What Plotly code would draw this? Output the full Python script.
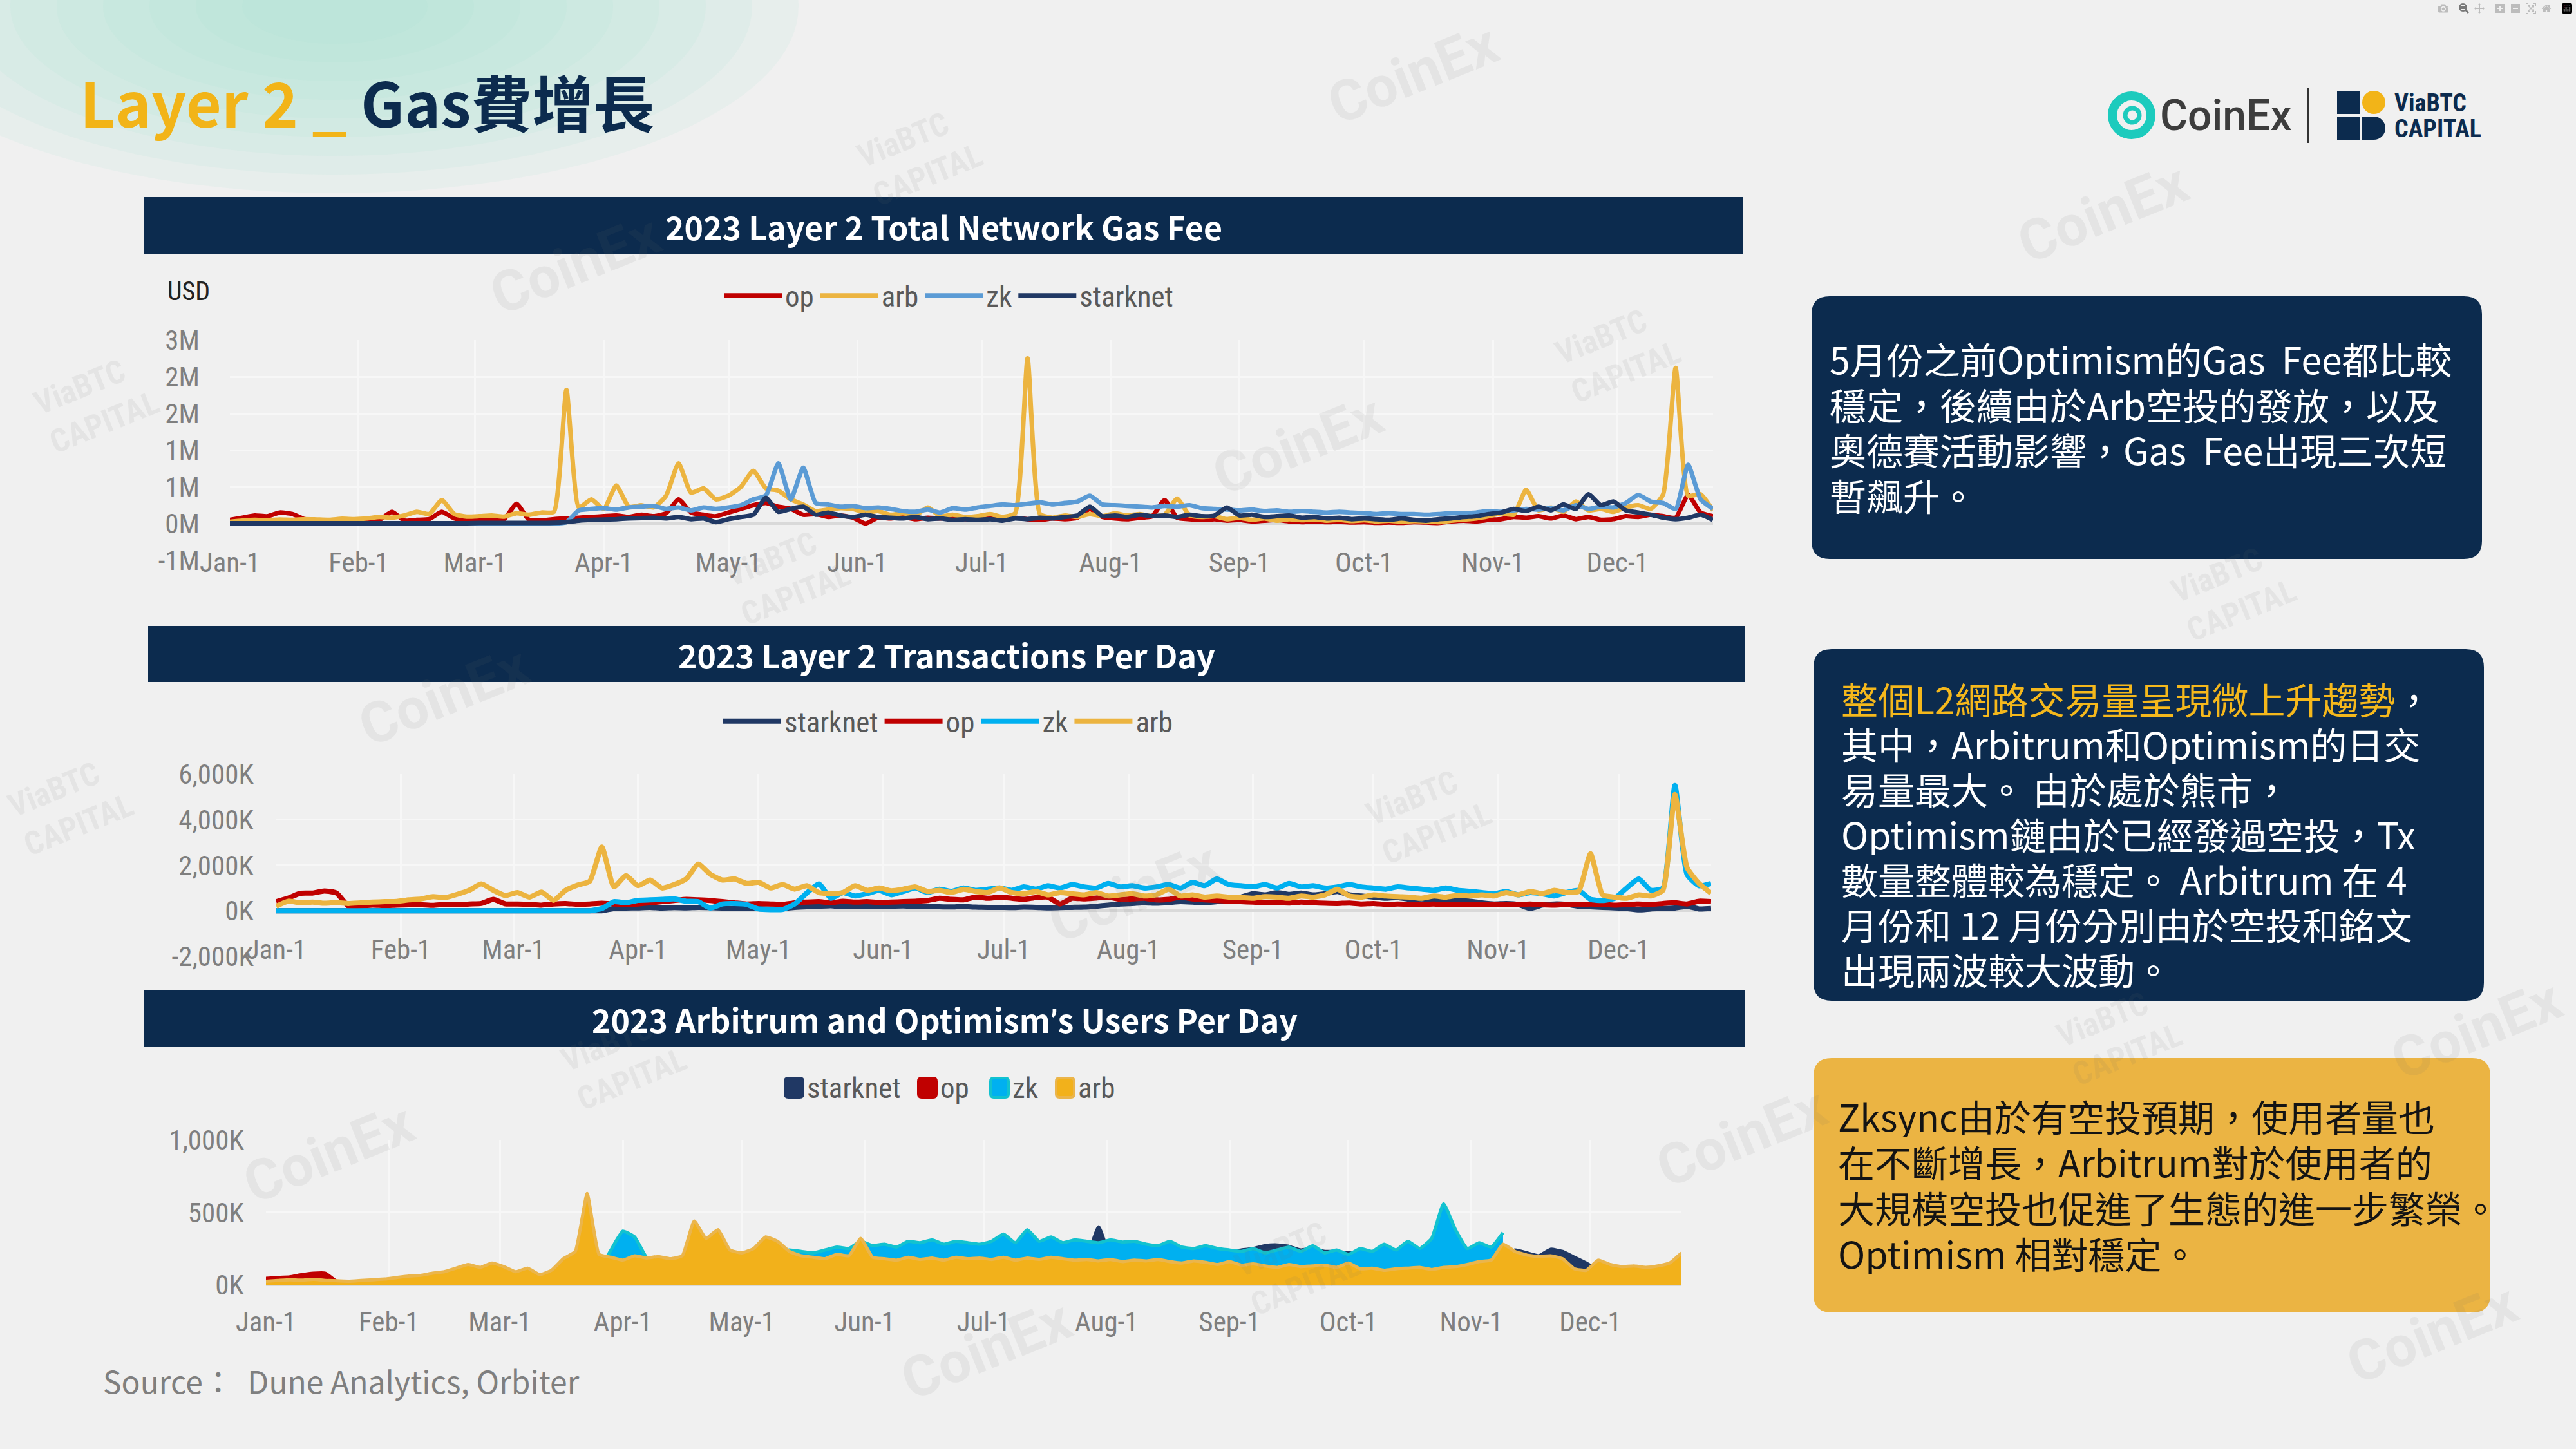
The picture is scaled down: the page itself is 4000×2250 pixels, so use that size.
"""
Layer 2 gas fee slide: three daily charts plus commentary boxes
"""

import pandas as pd
import plotly.graph_objects as go

W, H = 4000, 2250
BG = "#f0f0f0"
NAVY = "#0c2b4e"
GOLD = "#f2b418"
GRID = "#f7f7f7"
TICK = "#7f7f7f"
CHART_FONT = "Liberation Sans Narrow, Roboto Condensed, Roboto, sans-serif"
TEXT_FONT = "Noto Sans CJK TC, Noto Sans, sans-serif"

# sampled every 3 days from Jan 1
DAYS = pd.date_range("2023-01-01", periods=120, freq="3D")
MONTH_STARTS = [d.strftime("%Y-%m-%d") for d in pd.date_range("2023-01-01", periods=12, freq="MS")]
MONTH_LABELS = ["Jan-1", "Feb-1", "Mar-1", "Apr-1", "May-1", "Jun-1",
                "Jul-1", "Aug-1", "Sep-1", "Oct-1", "Nov-1", "Dec-1"]

# chart 1: total network gas fee (thousand USD)
GAS_OP = [
    50, 80, 110, 100, 150, 130, 60, 40, 35, 40, 35, 40, 50, 160, 40, 50, 60, 160, 70, 45,
    40, 50, 60, 270, 50, 40, 60, 70, 80, 90, 100, 110, 90, 120, 100, 140, 330, 150, 120, 100,
    150, 200, 250, 280, 230, 200, 120, 130, 90, 110, 80, 0, 80, 70, 90, 60, 80, 70, 90, 60,
    60, 70, 50, 80, 60, 50, 70, 60, 80, 200, 90, 70, 60, 80, 100, 320, 80, 60, 50, 60,
    40, 50, 30, 40, 50, 30, 20, 30, 20, 25, 15, 20, 10, 15, 10, 20, 15, 10, 30, 40,
    30, 50, 60, 90, 80, 100, 70, 110, 60, 90, 50, 60, 100, 90, 120, 100, 80, 390, 150, 100,
]
GAS_ARB = [
    25, 40, 50, 45, 55, 50, 60, 55, 50, 65, 60, 70, 90, 80, 110, 160, 130, 320, 130, 95,
    100, 110, 95, 140, 120, 150, 160, 1820, 220, 330, 200, 520, 230, 250, 220, 380, 820, 420, 480, 330,
    380, 500, 720, 480, 450, 330, 260, 170, 190, 210, 200, 150, 170, 120, 140, 110, 220, 100, 120, 90,
    100, 130, 90, 140, 2250, 130, 80, 110, 90, 130, 100, 140, 110, 130, 100, 120, 340, 110, 90, 100,
    60, 80, 50, 70, 40, 60, 45, 55, 40, 50, 35, 45, 30, 40, 25, 35, 30, 20, 40, 55,
    70, 100, 140, 120, 460, 180, 220, 160, 300, 180, 200, 160, 220, 250, 200, 400, 2120, 380, 400, 180,
]
GAS_ZK = [
    0, 0, 0, 0, 0, 0, 0, 0, 0, 0, 0, 0, 0, 0, 0, 0, 0, 0, 0, 0,
    0, 0, 0, 0, 0, 0, 0, 20, 180, 200, 210, 190, 220, 230, 240, 200, 220, 180, 220, 200,
    220, 250, 330, 380, 820, 330, 760, 280, 260, 230, 240, 210, 220, 200, 170, 160, 190, 150, 210, 190,
    220, 240, 260, 250, 270, 290, 260, 280, 300, 380, 260, 250, 240, 230, 220, 240, 230, 250, 210, 200,
    190, 180, 190, 170, 180, 160, 170, 160, 150, 160, 150, 140, 130, 140, 130, 130, 120, 130, 140, 140,
    150, 170, 160, 180, 200, 190, 210, 180, 250, 200, 230, 220, 280, 390, 300, 280, 200, 800, 330, 200,
]
GAS_STARKNET = [
    5, 5, 5, 5, 5, 5, 5, 5, 5, 5, 5, 5, 5, 5, 5, 5, 5, 5, 5, 5,
    8, 8, 8, 8, 8, 8, 10, 20, 40, 50, 55, 60, 70, 75, 80, 70, 90, 60, 70, 20,
    60, 90, 120, 350, 160, 200, 230, 120, 150, 110, 90, 120, 90, 80, 70, 90, 60, 70, 50, 60,
    50, 60, 40, 70, 60, 80, 70, 90, 110, 230, 100, 110, 90, 120, 100, 110, 90, 120, 100, 110,
    220, 110, 120, 90, 100, 110, 80, 90, 70, 80, 60, 70, 60, 50, 70, 50, 40, 60, 70, 90,
    100, 130, 150, 200, 170, 230, 180, 260, 200, 400, 250, 300, 180, 150, 120, 80, 60, 80, 120, 50,
]

# chart 2: transactions per day (thousand)
TX_STARKNET = [
    0, 0, 0, 0, 0, 0, 0, 0, 0, 0, 0, 0, 0, 0, 0, 0, 0, 0, 0, 0,
    0, 0, 0, 0, 0, 0, 0, 0, 100, 120, 130, 150, 120, 140, 130, 150, 140, 120, 100, 110,
    90, 80, 100, 150, 180, 200, 220, 180, 200, 190, 180, 200, 210, 190, 200, 180, 170, 190, 160, 150,
    150, 140, 160, 150, 130, 140, 150, 160, 200, 250, 300, 320, 350, 330, 360, 400, 380, 350, 400, 450,
    600, 750, 700, 800, 720, 780, 700, 750, 850, 700, 650, 600, 550, 580, 500, 520, 480, 450, 500, 420,
    350, 300, 320, 280, 100, 250, 300, 280, 200, 180, 150, 130, 100, 40, 80, 100, 120, 200, 80, 100,
]
TX_OP = [
    400, 560, 770, 780, 870, 780, 200, 220, 250, 230, 250, 260, 270, 240, 280, 260, 300, 320, 500, 300,
    300, 280, 250, 300, 320, 280, 300, 330, 300, 280, 300, 350, 400, 450, 500, 480, 450, 400, 350, 300,
    320, 300, 280, 350, 380, 400, 350, 420, 380, 400, 360, 380, 400, 420, 450, 550, 500, 480, 600, 550,
    600, 550, 500, 580, 600, 300, 550, 520, 560, 600, 500, 520, 550, 480, 500, 600, 520, 480, 450, 420,
    400, 380, 350, 360, 340, 380, 350, 330, 320, 340, 300, 320, 280, 300, 290, 280, 300, 270, 290, 280,
    270, 290, 260, 280, 300, 260, 250, 280, 260, 300, 280, 250, 270, 300, 280, 320, 350, 300, 420, 400,
]
TX_ZK = [
    0, 0, 0, 0, 0, 0, 0, 0, 0, 0, 0, 0, 0, 0, 0, 0, 0, 0, 0, 0,
    0, 0, 0, 0, 0, 0, 0, 100, 400, 350, 460, 480, 500, 520, 420, 400, 120, 300, 320, 280,
    80, 50, 60, 300, 780, 1180, 550, 800, 650, 750, 900, 700, 850, 1000, 800, 950, 850, 1000, 900, 950,
    1000, 900, 1050, 950, 1100, 1000, 1150, 1050, 1000, 1200, 1050, 1100, 1000, 1050, 1150, 1000, 1250, 1100, 1400, 1150,
    1100, 1050, 1150, 1000, 1200, 1050, 1100, 1000, 1050, 1150, 1050, 1000, 950, 1050, 1000, 950, 900, 1000, 900, 850,
    800, 750, 850, 700, 800, 750, 650, 800, 900, 500, 450, 550, 1000, 1400, 900, 1000, 5500, 1600, 1100, 1200,
]
TX_ARB = [
    200, 420, 350, 380, 330, 360, 320, 350, 380, 400, 410, 480, 520, 620, 580, 720, 900, 1180, 900, 670,
    800, 600, 820, 460, 900, 1130, 1300, 2800, 1050, 1550, 1100, 1350, 1000, 1150, 1400, 2050, 1600, 1350, 1400, 1200,
    1250, 1000, 1150, 950, 1100, 800, 750, 800, 1100, 900, 1000, 880, 950, 1050, 850, 900, 800, 950, 850, 800,
    1000, 800, 750, 850, 700, 800, 750, 700, 800, 650, 700, 750, 650, 700, 950, 650, 700, 600, 650, 600,
    580, 550, 620, 600, 550, 650, 600, 700, 950, 650, 600, 700, 650, 620, 600, 550, 650, 600, 680, 650,
    700, 650, 800, 700, 850, 750, 900, 800, 850, 2500, 700, 600, 550, 700, 650, 900, 5100, 1900, 1200, 770,
]

# chart 3: users per day (thousand), overlapping areas
USR_STARKNET = [
    5, 5, 5, 5, 5, 5, 5, 5, 5, 5, 5, 5, 5, 5, 5, 5, 5, 5, 5, 5,
    8, 8, 8, 8, 8, 8, 10, 10, 40, 60, 80, 90, 100, 100, 110, 100, 120, 110, 100, 110,
    100, 110, 120, 110, 120, 130, 120, 130, 140, 130, 150, 140, 150, 140, 150, 160, 150, 160, 150, 160,
    160, 150, 170, 160, 170, 160, 170, 180, 190, 200, 400, 200, 210, 220, 210, 220, 230, 220, 230, 240,
    240, 230, 240, 250, 270, 275, 265, 240, 250, 230, 230, 220, 230, 220, 210, 220, 200, 210, 190, 200,
    190, 200, 210, 200, 150, 240, 220, 200, 245, 230, 190, 150, 100, 90, 80, 90, 80, 90, 80, 90,
]
USR_OP = [
    45, 50, 55, 70, 80, 80, 20, 20, 22, 25, 25, 28, 30, 30, 35, 35, 40, 45, 40, 45,
    45, 40, 45, 40, 45, 50, 55, 60, 55, 60, 60, 65, 60, 65, 60, 70, 75, 70, 70, 65,
    65, 70, 75, 70, 65, 60, 65, 60, 65, 60, 70, 65, 60, 65, 60, 65, 60, 65, 60, 60,
    60, 55, 60, 55, 60, 55, 60, 55, 50, 55, 50, 55, 50, 55, 50, 55, 50, 45, 50, 45,
    50, 45, 50, 45, 50, 45, 50, 45, 50, 45, 50, 45, 40, 45, 40, 45, 40, 45, 40, 45,
    40, 45, 40, 45, 50, 45, 50, 45, 50, 45, 40, 45, 40, 45, 40, 45, 40, 45, 40, 45,
]
USR_ZK = [
    0, 0, 0, 0, 0, 0, 0, 0, 0, 0, 0, 0, 0, 0, 0, 0, 0, 0, 0, 0,
    0, 0, 0, 0, 0, 0, 0, 0, 100, 240, 370, 330, 190, 180, 170, 190, 200, 210, 200, 190,
    180, 200, 210, 220, 240, 230, 220, 240, 260, 250, 300, 270, 280, 260, 300, 290, 310, 280, 300, 290,
    280, 300, 350, 290, 380, 300, 330, 290, 310, 300, 290, 310, 295, 300, 280, 270, 300, 260, 250, 270,
    250, 240, 230, 250, 220, 240, 260, 230, 270, 220, 240, 210, 250, 230, 280, 240, 300, 250, 320, 560,
    380, 250, 290, 260, 360, None, None, None, None, None, None, None, None, None, None, None, None, None, None, None,
]
USR_ARB = [
    25, 30, 35, 32, 38, 30, 28, 25, 30, 35, 40, 50, 60, 65, 80, 90, 115, 140, 120, 150,
    125, 90, 115, 70, 100, 180, 230, 630, 210, 190, 170, 200, 185, 195, 180, 200, 440, 320, 380, 240,
    220, 250, 330, 300, 230, 200, 190, 180, 210, 200, 320, 190, 180, 170, 190, 175, 185, 170, 190, 180,
    185, 175, 190, 170, 185, 175, 190, 180, 170, 175, 165, 175, 160, 170, 165, 175, 160, 150, 165, 155,
    140, 160, 135, 145, 130, 120, 140, 125, 130, 135, 120, 150, 110, 115, 100, 110, 115, 120, 105, 120,
    125, 140, 160, 170, 280, 230, 205, 195, 200, 180, 110, 100, 170, 140, 125, 130, 120, 130, 150, 220,
]

GAS_TICKS = [-500, 0, 500, 1000, 1500, 2000, 2500]
GAS_TICK_TEXT = ["-1M", "0M", "1M", "1M", "2M", "2M", "3M"]
TX_TICKS = [-2000, 0, 2000, 4000, 6000]
TX_TICK_TEXT = ["-2,000K", "0K", "2,000K", "4,000K", "6,000K"]
USR_TICKS = [0, 500, 1000]
USR_TICK_TEXT = ["0K", "500K", "1,000K"]

BOX1_LINES = [
    "5月份之前Optimism的Gas\u00a0 Fee都比較",
    "穩定，後續由於Arb空投的發放，以及",
    "奧德賽活動影響，Gas\u00a0 Fee出現三次短",
    "暫飆升。",
]
BOX2_LINES = [
    "<span style='color:#f5b81c'>整個L2網路交易量呈現微上升趨勢</span>，",
    "其中，Arbitrum和Optimism的日交",
    "易量最大。 由於處於熊市，",
    "Optimism鏈由於已經發過空投，Tx",
    "數量整體較為穩定。 Arbitrum 在 4",
    "月份和 12 月份分別由於空投和銘文",
    "出現兩波較大波動。",
]
BOX3_LINES = [
    "Zksync由於有空投預期，使用者量也",
    "在不斷增長，Arbitrum對於使用者的",
    "大規模空投也促進了生態的進一步繁榮。",
    "Optimism 相對穩定。",
]

WATERMARK_COINEX = [(2194, 115), (3265, 330), (2015, 690), (893, 410), (689, 1080),
                    (510, 1790), (1531, 2095), (2704, 1765), (3776, 2070), (3845, 1598), (1760, 1385)]
WATERMARK_VIABTC = [(1429, 242), (2513, 548), (150, 625), (1224, 893), (3469, 918),
                    (2219, 1263), (969, 1645), (3291, 1607), (110, 1250), (2015, 1964)]

# hand-drawn legend for the area chart (plotly shows fills as thin strips)
LEGEND3_X = {"starknet": 1219, "op": 1426, "zk": 1538, "arb": 1640}
LEGEND3_Y = 1689


def px(x):
    """Pixel x to paper x"""
    return x / W


def py(y):
    """Pixel y (from top) to paper y"""
    return 1 - y / H


def rounded_path(x0, y0, x1, y1, r):
    """SVG path of a rounded rectangle, pixel input, paper output"""
    def p(x, y):
        return f"{px(x):.5f},{py(y):.5f}"
    return (f"M{p(x0 + r, y0)} L{p(x1 - r, y0)} Q{p(x1, y0)} {p(x1, y0 + r)} "
            f"L{p(x1, y1 - r)} Q{p(x1, y1)} {p(x1 - r, y1)} L{p(x0 + r, y1)} "
            f"Q{p(x0, y1)} {p(x0, y1 - r)} L{p(x0, y0 + r)} Q{p(x0, y0)} {p(x0 + r, y0)} Z")


def label(x, y, text, size, color, family=TEXT_FONT, xanchor="left", angle=0, weight=None, height=None):
    """Paper-anchored text, pixel position of its anchor point"""
    font = dict(family=family, size=size, color=color)
    if weight:
        font["weight"] = weight
    ann = dict(x=px(x), y=py(y), xref="paper", yref="paper", showarrow=False,
               xanchor=xanchor, yanchor="middle", align="left",
               text=text, textangle=angle, font=font)
    if height:
        ann["height"] = height
    return ann


def axis_pair(n, x0, x1, y_bottom, y_top, y_range, y_ticks, y_text, x_standoff, y_standoff):
    """Build the x/y axis dicts for chart n"""
    suffix = "" if n == 1 else str(n)
    tickfont = dict(family=CHART_FONT, size=43, color=TICK)
    xaxis = dict(
        domain=[px(x0), px(x1)], anchor="y" + suffix, type="date",
        range=["2023-01-01", "2023-12-24"],
        tickvals=MONTH_STARTS, ticktext=MONTH_LABELS,
        showgrid=True, gridcolor=GRID, gridwidth=3,
        showline=False, zeroline=False, ticks="",
        ticklabelstandoff=x_standoff, tickfont=tickfont,
    )
    yaxis = dict(
        domain=[py(y_bottom), py(y_top)], anchor="x" + suffix, range=y_range,
        tickvals=y_ticks, ticktext=y_text,
        showgrid=True, gridcolor=GRID, gridwidth=3,
        zeroline=True, zerolinecolor="#d9d9d9", zerolinewidth=4,
        showline=False, ticks="", ticklabelstandoff=y_standoff, tickfont=tickfont,
    )
    return "xaxis" + suffix, xaxis, "yaxis" + suffix, yaxis


def legend_box(x, y):
    return dict(
        orientation="h", x=px(x), xanchor="center", y=py(y), yanchor="middle",
        font=dict(family=CHART_FONT, size=45, color="#595959"),
        bgcolor="rgba(0,0,0,0)", traceorder="normal", itemwidth=90,
    )


fig = go.Figure()

# chart 1: gas fee lines
gas_series = [("op", GAS_OP), ("arb", GAS_ARB), ("zk", GAS_ZK), ("starknet", GAS_STARKNET)]
gas_colors = {"op": "#c00000", "arb": "#ecb440", "zk": "#5b9bd5", "starknet": "#203864"}
for name, vals in gas_series:
    fig.add_trace(go.Scatter(
        x=DAYS, y=vals, name=name, mode="lines",
        line=dict(color=gas_colors[name], width=7, shape="spline", smoothing=0.5),
        xaxis="x", yaxis="y", legend="legend",
    ))

# chart 2: transactions lines
tx_series = [("starknet", TX_STARKNET), ("op", TX_OP), ("zk", TX_ZK), ("arb", TX_ARB)]
tx_colors = {"starknet": "#203864", "op": "#c00000", "zk": "#00b0f0", "arb": "#ecb440"}
for name, vals in tx_series:
    fig.add_trace(go.Scatter(
        x=DAYS, y=vals, name=name, mode="lines",
        line=dict(color=tx_colors[name], width=8, shape="spline", smoothing=0.5),
        xaxis="x2", yaxis="y2", legend="legend2",
    ))

# chart 3: users overlapping areas
usr_series = [("starknet", USR_STARKNET), ("op", USR_OP), ("zk", USR_ZK), ("arb", USR_ARB)]
usr_fill = {"starknet": "#203864", "op": "#c00000", "zk": "#00b0f0", "arb": "#f2b11b"}
usr_line = {"starknet": "#203864", "op": "#c00000", "zk": "#12c2cf", "arb": "#ebb54b"}
for name, vals in usr_series:
    fig.add_trace(go.Scatter(
        x=DAYS, y=vals, name=name, mode="lines", fill="tozeroy",
        fillcolor=usr_fill[name], showlegend=False,
        line=dict(color=usr_line[name], width=5, shape="spline", smoothing=0.4),
        xaxis="x3", yaxis="y3",
    ))

axes = [
    axis_pair(1, 357, 2660, 870, 528, [-500, 2500], GAS_TICKS, GAS_TICK_TEXT, -26, 46),
    axis_pair(2, 429, 2657, 1485, 1202, [-2000, 6000], TX_TICKS, TX_TICK_TEXT, -40, 34),
    axis_pair(3, 413, 2611, 1995, 1770, [0, 1000], USR_TICKS, USR_TICK_TEXT, 28, 33),
]
layout_axes = {}
for xname, xa, yname, ya in axes:
    layout_axes[xname] = xa
    layout_axes[yname] = ya

shapes = []
# soft mint glow in the top-left corner
for k in range(9):
    f = 1 - k / 10
    shapes.append(dict(type="circle", xref="paper", yref="paper", layer="below",
                       x0=px(520 - 720 * f), x1=px(520 + 720 * f),
                       y0=py(10 + 290 * f), y1=py(10 - 290 * f),
                       fillcolor="#a3e6d2", opacity=0.11, line=dict(width=0)))

# chart header bars
headers = [
    (224, 2707, 306, 395, "2023 Layer 2 Total Network Gas Fee"),
    (230, 2709, 972, 1059, "2023 Layer 2 Transactions Per Day"),
    (224, 2709, 1538, 1625,
     "2023 Arbitrum and Optimism<span style='font-family:Roboto'>\u2019</span>s Users Per Day"),
]
for x0, x1, y0, y1, _ in headers:
    shapes.append(dict(type="rect", xref="paper", yref="paper", layer="below",
                       x0=px(x0), x1=px(x1), y0=py(y1), y1=py(y0),
                       fillcolor=NAVY, line=dict(width=0)))

# commentary boxes
shapes.append(dict(type="path", xref="paper", yref="paper", path=rounded_path(2813, 460, 3854, 868, 28),
                   fillcolor=NAVY, line=dict(width=0), layer="below"))
shapes.append(dict(type="path", xref="paper", yref="paper", path=rounded_path(2816, 1008, 3857, 1554, 28),
                   fillcolor=NAVY, line=dict(width=0), layer="below"))
shapes.append(dict(type="path", xref="paper", yref="paper", path=rounded_path(2816, 1643, 3867, 2038, 28),
                   fillcolor="#ebb443", line=dict(width=0), layer="below"))

# area-chart legend swatches
for name, x in LEGEND3_X.items():
    shapes.append(dict(type="path", xref="paper", yref="paper",
                       path=rounded_path(x, LEGEND3_Y - 15, x + 28, LEGEND3_Y + 15, 5),
                       fillcolor=usr_fill[name], line=dict(color=usr_line[name], width=4)))

# logos
shapes.append(dict(type="circle", xref="paper", yref="paper",
                   x0=px(3280), x1=px(3340), y0=py(209), y1=py(149),
                   line=dict(color="#1ccbbd", width=14)))
shapes.append(dict(type="circle", xref="paper", yref="paper",
                   x0=px(3300), x1=px(3322), y0=py(190), y1=py(168),
                   line=dict(color="#1ccbbd", width=7)))
shapes.append(dict(type="line", xref="paper", yref="paper",
                   x0=px(3584), x1=px(3584), y0=py(136), y1=py(222),
                   line=dict(color="#333333", width=3)))
shapes.append(dict(type="rect", xref="paper", yref="paper", x0=px(3629), x1=px(3664), y0=py(177), y1=py(141),
                   fillcolor=NAVY, line=dict(width=0)))
shapes.append(dict(type="circle", xref="paper", yref="paper", x0=px(3668), x1=px(3704), y0=py(177), y1=py(141),
                   fillcolor=GOLD, line=dict(width=0)))
shapes.append(dict(type="rect", xref="paper", yref="paper", x0=px(3629), x1=px(3664), y0=py(217), y1=py(181),
                   fillcolor=NAVY, line=dict(width=0)))
shapes.append(dict(type="circle", xref="paper", yref="paper", x0=px(3668), x1=px(3704), y0=py(217), y1=py(181),
                   fillcolor=NAVY, line=dict(width=0)))
shapes.append(dict(type="rect", xref="paper", yref="paper", x0=px(3668), x1=px(3686), y0=py(217), y1=py(181),
                   fillcolor=NAVY, line=dict(width=0)))

annotations = []
for x, y in WATERMARK_COINEX:
    annotations.append(label(x, y, "<b>CoinEx</b>", 88, "rgba(110,110,110,0.09)",
                             family="Roboto", xanchor="center", angle=-22))
for x, y in WATERMARK_VIABTC:
    annotations.append(label(x, y, "<b>ViaBTC<br>CAPITAL</b>", 50, "rgba(110,110,110,0.09)",
                             family=CHART_FONT, xanchor="center", angle=-22))

annotations.append(label(122, 156, f"<b><span style='color:{GOLD}'>Layer 2 _ </span>Gas費增長</b>",
                         95, NAVY))
for x0, x1, y0, y1, title in headers:
    annotations.append(label((x0 + x1) / 2, (y0 + y1) / 2, f"<b>{title}</b>", 50, "white",
                             xanchor="center"))
annotations.append(label(258, 452, "USD", 40, "#222222", family=CHART_FONT))
annotations.append(label(158, 2143, "Source：  Dune Analytics, Orbiter", 48, "#7f7f7f"))

for name, x in LEGEND3_X.items():
    annotations.append(label(x + 32, LEGEND3_Y, name, 45, "#595959", family=CHART_FONT))

for i, line in enumerate(BOX1_LINES):
    annotations.append(label(2839, 556 + i * 70.5, line, 57, "white", height=66))
for i, line in enumerate(BOX2_LINES):
    annotations.append(label(2857, 1084 + i * 70, line, 57, "white", height=66))
for i, line in enumerate(BOX3_LINES):
    annotations.append(label(2852, 1732 + i * 71, line, 57, "#141414", height=66))

annotations.append(label(3352, 180, "CoinEx", 66, "#3d3d3d", family="Roboto", weight=500))
annotations.append(label(3716, 160, "<b>ViaBTC</b>", 38, NAVY, family=CHART_FONT))
annotations.append(label(3716, 200, "<b>CAPITAL</b>", 38, NAVY, family=CHART_FONT))

fig.update_layout(
    width=W, height=H, margin=dict(l=0, r=0, t=0, b=0, pad=0, autoexpand=False),
    paper_bgcolor=BG, plot_bgcolor="rgba(0,0,0,0)",
    showlegend=True,
    legend=legend_box(1473, 459),
    legend2=legend_box(1472, 1120),
    shapes=shapes, annotations=annotations,
    **layout_axes,
)

fig.write_html("out.html", post_script="document.body.style.margin='0';")
